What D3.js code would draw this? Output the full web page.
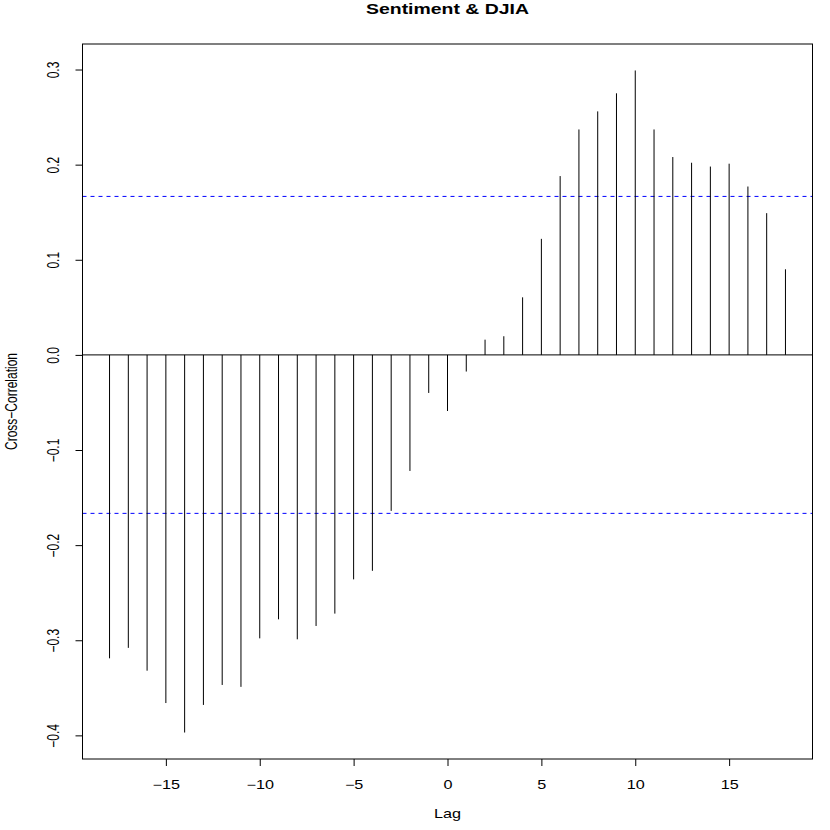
<!DOCTYPE html>
<html>
<head>
<meta charset="utf-8">
<script src="https://cdn.jsdelivr.net/npm/d3@7"></script>
<style>
body { margin: 0; background: #fff; }
text { font-family: "Liberation Sans", Arial, Helvetica, sans-serif; }
</style>
</head>
<body>
<svg id="chart" width="830" height="830"></svg>
<script>
// lags and cross-correlation values
var lags = [-18, -17, -16, -15, -14, -13, -12, -11, -10, -9, -8, -7, -6, -5, -4, -3, -2, -1,
            0, 1, 2, 3, 4, 5, 6, 7, 8, 9, 10, 11, 12, 13, 14, 15, 16, 17, 18]
var ccf = [-0.319, -0.308, -0.332, -0.366, -0.397, -0.368, -0.347, -0.349, -0.298, -0.278,
           -0.299, -0.285, -0.272, -0.236, -0.227, -0.164, -0.122, -0.040,
           -0.059, -0.0175, 0.016, 0.0196, 0.0605, 0.122, 0.188, 0.237, 0.256, 0.275,
           0.299, 0.237, 0.208, 0.202, 0.198, 0.201, 0.177, 0.149, 0.090]
var ciLimits = [0.1666, -0.1666] // dashed confidence bounds
var xTicks = [-15, -10, -5, 0, 5, 10, 15]
var yTicks = [-0.4, -0.3, -0.2, -0.1, 0.0, 0.1, 0.2, 0.3]

// plot box (window.top is reserved, so no plain "top")
var plotL = 82.5, plotR = 812.5, plotT = 44, plotB = 759
var wide = 1.35 // the picture's text is stretched sideways

var svg = d3.select("#chart")

// R style 4% padding on the data ranges
var xMin = d3.min(lags), xMax = d3.max(lags)
var xPad = (xMax - xMin) * 0.04
var x = d3.scaleLinear().domain([xMin - xPad, xMax + xPad]).range([plotL, plotR])

var yMin = d3.min(ccf.concat(ciLimits)), yMax = d3.max(ccf.concat(ciLimits))
var yPad = (yMax - yMin) * 0.04
var y = d3.scaleLinear().domain([yMin - yPad, yMax + yPad]).range([plotB, plotT])

// zero line
svg.append("line")
	.attr("x1", plotL).attr("x2", plotR)
	.attr("y1", y(0)).attr("y2", y(0))
	.attr("stroke", "#000").attr("stroke-width", 1)

// confidence bounds
svg.selectAll(".ci")
	.data(ciLimits)
	.enter()
	.append("line")
	.attr("class", "ci")
	.attr("x1", plotL).attr("x2", plotR)
	.attr("y1", function(d){ return y(d) })
	.attr("y2", function(d){ return y(d) })
	.attr("stroke", "#0000ff").attr("stroke-width", 1)
	.attr("stroke-dasharray", "4,4")

// spikes
svg.selectAll(".spike")
	.data(lags)
	.enter()
	.append("line")
	.attr("class", "spike")
	.attr("x1", function(d){ return x(d) })
	.attr("x2", function(d){ return x(d) })
	.attr("y1", y(0))
	.attr("y2", function(d, i){ return y(ccf[i]) })
	.attr("stroke", "#000").attr("stroke-width", 1)

// box
svg.append("rect")
	.attr("x", plotL).attr("y", plotT)
	.attr("width", plotR - plotL).attr("height", plotB - plotT)
	.attr("fill", "none").attr("stroke", "#000").attr("stroke-width", 1)

// x axis
var xAxis = svg.append("g")
	.attr("transform", "translate(0," + plotB + ")")
	.call(d3.axisBottom(x).tickValues(xTicks).tickSize(7).tickFormat(d3.format("d")))
xAxis.select(".domain").remove()
xAxis.selectAll("text")
	.attr("y", null).attr("dy", null)
	.attr("transform", "translate(0,29.5) scale(" + wide + ",1)")
	.style("font-size", "12px").attr("fill", "#000")

// y axis with rotated labels
var yAxis = svg.append("g")
	.attr("transform", "translate(" + plotL + ",0)")
	.call(d3.axisLeft(y).tickValues(yTicks).tickSize(7).tickFormat(d3.format(".1f")))
yAxis.select(".domain").remove()
yAxis.selectAll("text")
	.attr("x", null).attr("dy", null)
	.attr("text-anchor", "middle")
	.attr("transform", "translate(-23.5,0) rotate(-90) scale(1," + wide + ")")
	.style("font-size", "12px").attr("fill", "#000")

// titles
svg.append("text")
	.attr("transform", "translate(" + (plotL + plotR) / 2 + ",13.5) scale(" + wide + ",1)")
	.attr("text-anchor", "middle")
	.style("font-size", "14.4px").style("font-weight", "bold")
	.text("Sentiment & DJIA")

svg.append("text")
	.attr("transform", "translate(" + (plotL + plotR) / 2 + ",818) scale(" + wide + ",1)")
	.attr("text-anchor", "middle")
	.style("font-size", "12px")
	.text("Lag")

svg.append("text")
	.attr("transform", "translate(17," + (plotT + plotB) / 2 + ") rotate(-90) scale(1," + wide + ")")
	.attr("text-anchor", "middle")
	.style("font-size", "12px")
	.text("Cross\u2212Correlation")
</script>
</body>
</html>
